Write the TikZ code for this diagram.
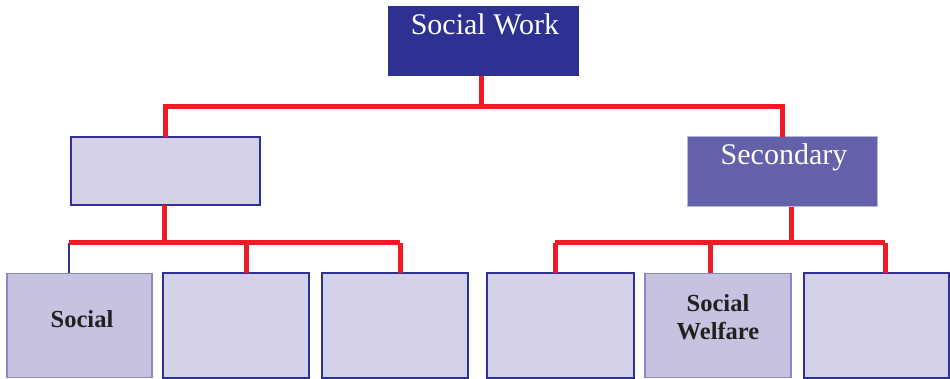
\documentclass[tikz,border=0pt]{standalone}
\usepackage{fontspec}
\setmainfont{Liberation Serif}
\definecolor{navy}{HTML}{2E3192}
\definecolor{lav}{HTML}{D3D1E8}
\definecolor{lavdark}{HTML}{C6C3E1}
\definecolor{lavborder}{HTML}{8A87C4}
\definecolor{secfill}{HTML}{6461AB}
\definecolor{secborder}{HTML}{B9B7DC}
\definecolor{conn}{HTML}{ED1C24}
\definecolor{txt}{HTML}{231F20}
\begin{document}
\begin{tikzpicture}[x=1pt,y=-1pt,
  base/.style={rectangle, inner sep=0pt, outer sep=0pt},
  plainbox/.style={base, draw=navy, line width=2pt, fill=lav},
  markbox/.style={base, draw=lavborder, line width=1.5pt, fill=lavdark},
  topbox/.style={base, draw=navy, line width=1pt, fill=navy},
  secbox/.style={base, draw=secborder, line width=1pt, fill=secfill},
  whitetext/.style={anchor=base, inner sep=0pt, text=white, font=\fontsize{30}{30}\selectfont},
  boldtext/.style={anchor=base, inner sep=0pt, text=txt, font=\fontsize{24.5}{24.5}\selectfont\bfseries},
  redline/.style={draw=conn, line width=5pt, line join=miter},
  blueline/.style={draw=navy, line width=2pt}]
\useasboundingbox (0,0) rectangle (950,379);
% boxes
\node[topbox, minimum width=190pt, minimum height=69pt] (top) at (483,41.5) {};
\node[plainbox, minimum width=189pt, minimum height=68pt] (mid1) at (165.5,171.5) {};
\node[secbox, minimum width=190pt, minimum height=70pt] (mid2) at (782,172) {};
\node[markbox, minimum width=145pt, minimum height=104pt] (b1) at (79.5,325.5) {};
\node[plainbox, minimum width=146pt, minimum height=104pt] (b2) at (236,325.5) {};
\node[plainbox, minimum width=146pt, minimum height=104pt] (b3) at (395,325.5) {};
\node[plainbox, minimum width=147pt, minimum height=104pt] (b4) at (560.5,325.5) {};
\node[markbox, minimum width=146pt, minimum height=104pt] (b5) at (718,325.5) {};
\node[plainbox, minimum width=145pt, minimum height=104pt] (b6) at (876,325.5) {};
% texts
\node[whitetext] (tw) at (485,35) {Social Work};
\node[whitetext] (ts) at (784,165) {Secondary};
\node[boldtext] (t1) at (82,327) {Social};
\node[boldtext] (t5a) at (718,312) {Social};
\node[boldtext] (t5b) at (718,339) {Welfare};
% connectors
\coordinate (j1) at (481,107);
\draw[redline] (j1 |- top.south) -- (j1);
\draw[redline] (mid1.north) -- (mid1.north |- j1) -- (mid2.north |- j1) -- (mid2.north);
\coordinate (j2) at (164,243);
\coordinate (L1) at (69,243);
\coordinate (L2) at (246,243);
\coordinate (L3) at (400,243);
\draw[blueline] (L1) -- (L1 |- b1.north);
\draw[redline] (j2 |- mid1.south) -- (j2);
\draw[redline] (L1) -- (L3);
\draw[redline] (L2) -- (L2 |- b2.north);
\draw[redline] (L3) -- (L3 |- b3.north);
\coordinate (j3) at (791,243);
\coordinate (R1) at (555,243);
\coordinate (R2) at (710,243);
\coordinate (R3) at (885,243);
\draw[redline] (j3 |- mid2.south) -- (j3);
\draw[redline] (R1) -- (R3);
\draw[redline] (R1) -- (R1 |- b4.north);
\draw[redline] (R2) -- (R2 |- b5.north);
\draw[redline] (R3) -- (R3 |- b6.north);
\end{tikzpicture}
\end{document}
